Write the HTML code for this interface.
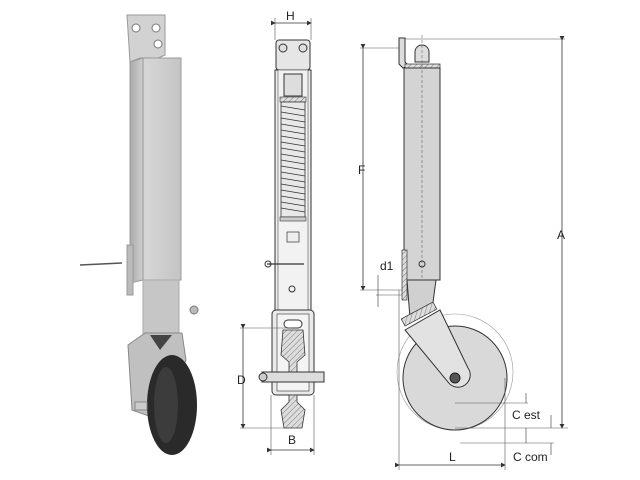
<!DOCTYPE html>
<html><head><meta charset="utf-8"><style>
html,body{margin:0;padding:0;background:#fff;width:640px;height:480px;overflow:hidden}
svg{display:block}
text{font-family:"Liberation Sans",sans-serif;font-size:12px;fill:#222}
</style></head><body>
<svg width="640" height="480" viewBox="0 0 640 480" xmlns="http://www.w3.org/2000/svg">
<defs>
<linearGradient id="tg" x1="0" x2="1"><stop offset="0" stop-color="#aaa"/><stop offset="0.3" stop-color="#d6d6d6"/><stop offset="1" stop-color="#c4c4c4"/></linearGradient>
<pattern id="hat" width="4" height="4" patternUnits="userSpaceOnUse" patternTransform="rotate(45)"><rect width="4" height="4" fill="#ddd"/><line x1="0" y1="0" x2="0" y2="4" stroke="#777" stroke-width="1"/></pattern>
<marker id="ar" markerWidth="6" markerHeight="6" refX="5" refY="3" orient="auto"><path d="M0,0 L6,3 L0,6z" fill="#333"/></marker>
</defs>

<!-- LEFT: photo jack -->
<path d="M127,15 L165,15 L165,55 L158,58 L140,58 L130,62 Z" fill="#d2d2d2" stroke="#999"/>
<circle cx="136" cy="28" r="4" fill="#fff" stroke="#777"/>
<circle cx="156" cy="28" r="4" fill="#fff" stroke="#777"/>
<circle cx="158" cy="44" r="4" fill="#fff" stroke="#777"/>
<path d="M130,62 L143,58 L181,58 L181,280 L143,280 L130,283 Z" fill="url(#tg)" stroke="#999"/>
<line x1="143" y1="58" x2="143" y2="280" stroke="#999"/>
<rect x="127" y="245" width="6" height="50" fill="#bbb" stroke="#999"/>
<rect x="143" y="280" width="36" height="60" fill="#c6c6c6" stroke="#aaa"/>
<line x1="80" y1="265" x2="122" y2="263" stroke="#555" stroke-width="1.5"/>
<circle cx="194" cy="310" r="4" fill="#bbb" stroke="#777"/>
<path d="M128,345 L145,333 L182,333 L186,360 L160,420 L132,410 Z" fill="#c0c0c0" stroke="#888"/>
<ellipse cx="172" cy="405" rx="25" ry="50" fill="#2a2a2a"/>
<ellipse cx="166" cy="405" rx="12" ry="38" fill="#3c3c3c"/>
<path d="M150,335 L172,335 L160,350 Z" fill="#444"/>
<rect x="135" y="402" width="12" height="8" fill="#ccc" stroke="#888"/>

<!-- MIDDLE: section -->
<line x1="275" y1="23" x2="311" y2="23" stroke="#333" stroke-width="0.8" marker-start="url(#ar)" marker-end="url(#ar)"/>
<line x1="275" y1="18" x2="275" y2="40" stroke="#555" stroke-width="0.6"/>
<line x1="311" y1="18" x2="311" y2="40" stroke="#555" stroke-width="0.6"/>
<text x="286" y="20">H</text>
<rect x="276" y="40" width="34" height="30" rx="3" fill="#e6e6e6" stroke="#333"/>
<circle cx="283" cy="48" r="4" fill="#ddd" stroke="#333"/><circle cx="303" cy="48" r="4" fill="#ddd" stroke="#333"/>
<rect x="275" y="70" width="36" height="240" fill="#ececec" stroke="#333"/>
<rect x="278" y="70" width="30" height="240" fill="#f2f2f2" stroke="#555" stroke-width="0.6"/>
<rect x="284" y="74" width="18" height="22" fill="#ddd" stroke="#333"/>
<rect x="280" y="97" width="26" height="5" fill="url(#hat)" stroke="#333" stroke-width="0.6"/>
<g stroke="#333" stroke-width="0.8" fill="none">
<rect x="281" y="102" width="24" height="115" fill="#e8e8e8"/>
<path d="M281,106 L305,110 M281,112 L305,116 M281,118 L305,122 M281,124 L305,128 M281,130 L305,134 M281,136 L305,140 M281,142 L305,146 M281,148 L305,152 M281,154 L305,158 M281,160 L305,164 M281,166 L305,170 M281,172 L305,176 M281,178 L305,182 M281,184 L305,188 M281,190 L305,194 M281,196 L305,200 M281,202 L305,206 M281,208 L305,212"/>
</g>
<rect x="280" y="217" width="26" height="4" fill="#ccc" stroke="#333" stroke-width="0.6"/>
<rect x="287" y="232" width="12" height="10" fill="#eee" stroke="#333" stroke-width="0.7"/>
<line x1="267" y1="264" x2="304" y2="264" stroke="#333" stroke-width="1.2"/>
<circle cx="268" cy="264" r="3" fill="none" stroke="#333"/>
<circle cx="292" cy="289" r="3" fill="none" stroke="#333"/>
<rect x="272" y="310" width="42" height="85" rx="4" fill="#eaeaea" stroke="#333"/>
<rect x="277" y="314" width="32" height="77" fill="#f4f4f4" stroke="#333" stroke-width="0.6"/>
<rect x="284" y="320" width="18" height="8" rx="4" fill="#fff" stroke="#333"/>
<path d="M283,330 L303,330 L305,355 L297,362 L297,372 L289,372 L289,362 L281,355 Z" fill="url(#hat)" stroke="#333" stroke-width="0.8"/>
<rect x="262" y="372" width="62" height="10" fill="#ddd" stroke="#333"/>
<circle cx="263" cy="377" r="4" fill="#ccc" stroke="#333"/>
<path d="M289,395 L297,395 L297,402 L305,410 L302,428 L284,428 L281,410 L289,402 Z" fill="url(#hat)" stroke="#333" stroke-width="0.8"/>
<line x1="243" y1="328" x2="243" y2="428" stroke="#333" stroke-width="0.8" marker-start="url(#ar)" marker-end="url(#ar)"/>
<line x1="240" y1="328" x2="292" y2="328" stroke="#555" stroke-width="0.6"/>
<line x1="240" y1="428" x2="292" y2="428" stroke="#555" stroke-width="0.6"/>
<text x="237" y="384">D</text>
<line x1="271" y1="450" x2="314" y2="450" stroke="#333" stroke-width="0.8" marker-start="url(#ar)" marker-end="url(#ar)"/>
<line x1="271" y1="395" x2="271" y2="455" stroke="#555" stroke-width="0.6"/>
<line x1="314" y1="395" x2="314" y2="455" stroke="#555" stroke-width="0.6"/>
<text x="288" y="444">B</text>

<!-- RIGHT: side view -->
<line x1="405" y1="39" x2="565" y2="39" stroke="#555" stroke-width="0.6"/>
<line x1="360" y1="48" x2="405" y2="48" stroke="#555" stroke-width="0.6"/>
<path d="M399,38 L405,38 L405,62 L409,66 L403,68 L399,64 Z" fill="#ddd" stroke="#333"/>
<path d="M415,62 L415,52 A7,7 0 0 1 429,52 L429,62 Z" fill="#ddd" stroke="#333"/>
<rect x="405" y="64" width="35" height="4" fill="url(#hat)" stroke="#333" stroke-width="0.7"/>
<rect x="404" y="68" width="36" height="212" fill="#d4d4d4" stroke="#333"/>
<line x1="422" y1="35" x2="422" y2="380" stroke="#666" stroke-width="0.6" stroke-dasharray="3,2"/>
<rect x="402" y="250" width="5" height="50" fill="url(#hat)" stroke="#333" stroke-width="0.7"/>
<circle cx="422" cy="264" r="3" fill="none" stroke="#333"/>
<path d="M407,280 L436,280 L432,310 L410,318 Z" fill="#d0d0d0" stroke="#333"/>
<circle cx="455" cy="372" r="58" fill="none" stroke="#999" stroke-width="0.6"/>
<circle cx="455" cy="378" r="52" fill="#d9d9d9" stroke="#333"/>
<path d="M405,330 L440,310 L468,368 A12,12 0 0 1 448,382 Z" fill="#e2e2e2" stroke="#333"/>
<rect x="405" y="318" width="36" height="8" transform="rotate(-28 405 326)" fill="url(#hat)" stroke="#333" stroke-width="0.7"/>
<circle cx="455" cy="378" r="5" fill="#555" stroke="#222"/>
<line x1="363" y1="48" x2="363" y2="290" stroke="#333" stroke-width="0.8" marker-start="url(#ar)" marker-end="url(#ar)"/>
<text x="358" y="174">F</text>
<line x1="360" y1="290" x2="402" y2="290" stroke="#555" stroke-width="0.6"/>
<line x1="376" y1="295" x2="402" y2="295" stroke="#555" stroke-width="0.6"/>
<line x1="378" y1="275" x2="378" y2="307" stroke="#333" stroke-width="0.6"/>
<text x="380" y="270">d1</text>
<line x1="562" y1="40" x2="562" y2="428" stroke="#333" stroke-width="0.8" marker-start="url(#ar)" marker-end="url(#ar)"/>
<text x="557" y="239">A</text>
<line x1="455" y1="428" x2="568" y2="428" stroke="#555" stroke-width="0.6"/>
<line x1="455" y1="403" x2="528" y2="403" stroke="#555" stroke-width="0.6"/>
<line x1="460" y1="443" x2="554" y2="443" stroke="#555" stroke-width="0.6"/>
<line x1="526" y1="393" x2="526" y2="403" stroke="#333" stroke-width="0.6"/>
<line x1="526" y1="428" x2="526" y2="443" stroke="#333" stroke-width="0.6"/>
<line x1="551" y1="415" x2="551" y2="428" stroke="#333" stroke-width="0.6"/>
<line x1="551" y1="443" x2="551" y2="455" stroke="#333" stroke-width="0.6"/>
<text x="512" y="419">C est</text>
<text x="513" y="461">C com</text>
<line x1="399" y1="465" x2="505" y2="465" stroke="#333" stroke-width="0.8" marker-start="url(#ar)" marker-end="url(#ar)"/>
<line x1="399" y1="290" x2="399" y2="470" stroke="#555" stroke-width="0.6"/>
<line x1="505" y1="378" x2="505" y2="470" stroke="#555" stroke-width="0.6"/>
<text x="449" y="461">L</text>
</svg>
</body></html>
